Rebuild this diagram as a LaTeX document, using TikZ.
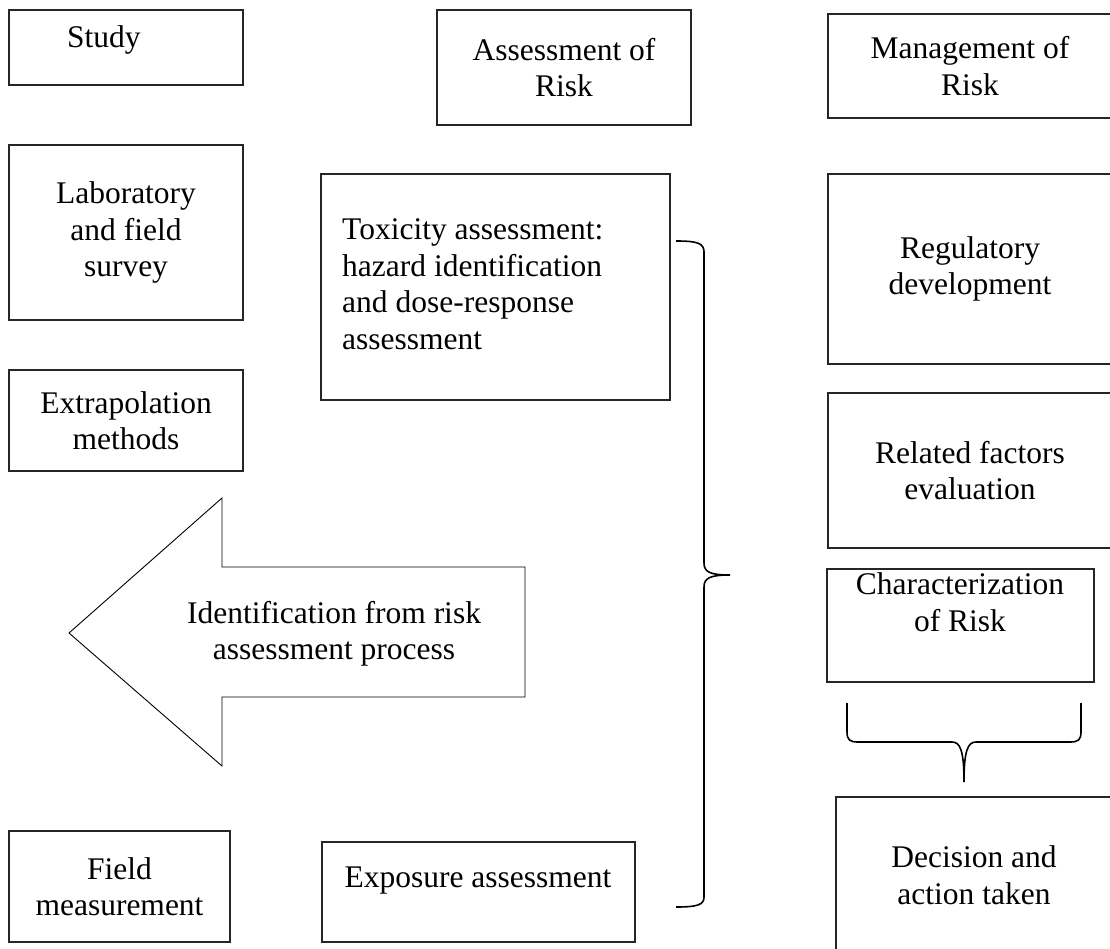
\documentclass[tikz,border=0pt]{standalone}
\usepackage{fontspec}
\setmainfont{Liberation Serif}
\begin{document}
\begin{tikzpicture}[x=1pt,y=-1pt,
  box/.style={draw=black!85, line width=1.2pt, inner sep=0pt, outer sep=0pt,
    anchor=north west, align=center, font=\fontsize{31.5}{36.5}\selectfont},
  txt/.style={font=\fontsize{31.5}{36.5}\selectfont, inner sep=0pt, align=center},
  brace/.style={draw=black, line width=1.6pt},
  bigarrow/.style={draw=black, line width=0.9pt, line join=miter}]
\useasboundingbox (0,0) rectangle (1110,949);

% left column
\node[box, minimum width=234pt, minimum height=75pt] (study) at (9,10) {};
\node[txt, anchor=base west] (studyT) at (67,48) {Study};
\node[box, minimum width=234pt, minimum height=175pt] (lab) at (9,145) {Laboratory\\and field\\survey};
\node[box, minimum width=234pt, minimum height=101pt] (extrap) at (9,370) {Extrapolation\\methods};
\node[box, minimum width=221pt, minimum height=111pt] (field) at (9,831) {Field\\measurement};

% middle column
\node[box, minimum width=254pt, minimum height=115pt] (assess) at (437,10) {Assessment of\\Risk};
\node[box, minimum width=349pt, minimum height=226pt] (tox) at (321,174) {};
\node[txt, anchor=west, align=left] (toxT) at (342,284) {Toxicity assessment:\\hazard identification\\and dose-response\\assessment};
\node[box, minimum width=313pt, minimum height=100pt] (expo) at (322,842) {};
\node[txt, anchor=base] (expoT) at (478,887) {Exposure assessment};

% right column
\node[box, minimum width=284pt, minimum height=104pt] (mgmt) at (828,14) {Management of\\Risk};
\node[box, minimum width=284pt, minimum height=190pt] (reg) at (828,174) {Regulatory\\development};
\node[box, minimum width=284pt, minimum height=155pt] (rel) at (828,393) {Related factors\\evaluation};
\node[box, minimum width=267pt, minimum height=113pt] (char) at (827,569) {};
\node[txt] (charT) at (960,602) {Characterization\\of Risk};
\node[box, minimum width=276pt, minimum height=156pt] (dec) at (836,797) {Decision and\\action taken};

% big left arrow
\coordinate (tip) at (69,633);
\draw[bigarrow] (525,567) -- (222,567) -- (222,498) -- (tip) -- (222,766) -- (222,697) -- (525,697) -- cycle;
\node[txt] (arrowT) at (334,634) {Identification from risk\\assessment process};

% big right brace
\coordinate (bt) at (676,241);
\coordinate (bm) at (730,575);
\coordinate (bb) at (676,907);
\draw[brace] (bt) .. controls (697,241) and (704,243) .. (704,252)
  -- (704,563) .. controls (704,572) and (710,575) .. (bm)
  .. controls (710,575) and (704,578) .. (704,587)
  -- (704,897) .. controls (704,905) and (697,907) .. (bb);

% lower brace
\coordinate (ll) at (847,703);
\coordinate (lr) at (1081,703);
\coordinate (lm) at (964,782);
\draw[brace] (ll) -- (847,732) .. controls (847,740) and (850,742) .. (858,742)
  -- (952,742) .. controls (960,742) and (964,750) .. (lm)
  .. controls (964,750) and (968,742) .. (976,742)
  -- (1070,742) .. controls (1078,742) and (1081,740) .. (1081,732) -- (lr);
\end{tikzpicture}
\end{document}
